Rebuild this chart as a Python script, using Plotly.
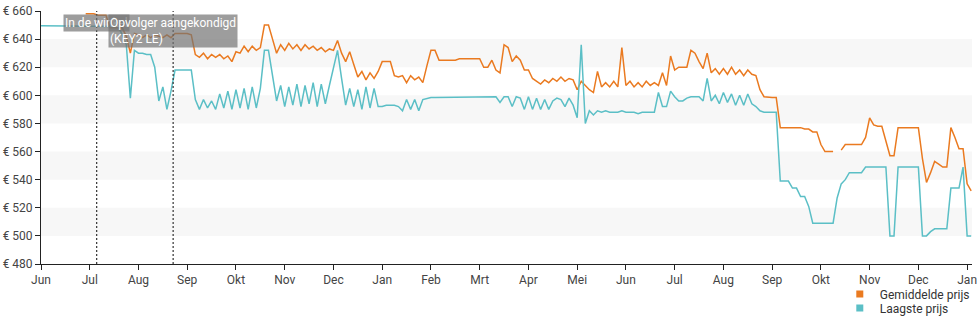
import plotly.graph_objects as go

# ---------------- data ----------------
month_labels = ["Jun", "Jul", "Aug", "Sep", "Okt", "Nov", "Dec", "Jan", "Feb", "Mrt",
                "Apr", "Mei", "Jun", "Jul", "Aug", "Sep", "Okt", "Nov", "Dec", "Jan"]
y_tick_values = [480, 500, 520, 540, 560, 580, 600, 620, 640, 660]
y_tick_labels = ["€ 480", "€ 500", "€ 520", "€ 540", "€ 560", "€ 580", "€ 600", "€ 620", "€ 640", "€ 660"]

# samples every 1/12 month, starting at the first "Jun"
samples_per_month = 12

gemiddelde_prijs = [
    None, None, None, None, None, None, None, None, None, None, None, 658,
    658, 658, 657, 657, 657, 648, 648, 648, 648, 642, 630, 644,
    643, 641, 643, 641, 643, 642, 641, 643, 641, 644, 644, 644,
    644, 643, 629, 627, 630, 626, 629, 627, 629, 626, 628, 624,
    631, 630, 635, 631, 635, 632, 634, 650, 650, 640, 630, 636,
    632, 637, 633, 636, 632, 636, 633, 635, 632, 634, 631, 633,
    632, 639, 630, 624, 631, 622, 613, 617, 611, 616, 612, 617,
    624, 624, 624, 614, 613, 614, 609, 614, 611, 613, 609, 621,
    632, 632, 625, 625, 625, 625, 625, 626, 626, 626, 626, 626,
    626, 620, 620, 625, 618, 616, 636, 634, 624, 628, 625, 618,
    618, 612, 610, 608, 611, 609, 612, 610, 613, 610, 612, 611,
    604, 610, 607, 604, 602, 617, 606, 609, 606, 610, 606, 634,
    607, 610, 606, 609, 606, 610, 607, 609, 607, 616, 607, 628,
    618, 620, 620, 620, 632, 630, 624, 619, 630, 616, 619, 615,
    619, 615, 620, 615, 618, 614, 618, 615, 614, 604, 599, 598.5,
    598.5, 598.5, 577, 577, 577, 577, 577, 577, 576, 576, 574, 574,
    565, 560, 560, 560, None, 561, 565, 565, 565, 565, 565, 570,
    584, 579, 578, 578, 568, 557, 557, 577, 577, 577, 577, 577,
    577, 555, 538, 545, 553, 551, 549, 549, 577, 570, 562, 562,
    537, 532,
]

laagste_prijs = [
    649.5, 649.5, 649.5, 649.5, 649.5, 649.5, 649.5, 649.5, 649.5, 649.5, 649.5, 649.5,
    649.5, 649.5, 649.5, 649.5, 649.5, 649.5, 649.5, 649, 643, 636, 598, 632,
    630, 630, 629, 629, 620, 596, 606, 590, 603, 618, 618, 618,
    618, 618, 597, 590, 597, 591, 596, 590, 601, 591, 603, 590,
    604, 591, 605, 590, 606, 591, 605, 632, 632, 615, 596, 607,
    592, 606, 593, 608, 592, 607, 594, 609, 592, 608, 594, 607,
    620, 632, 612, 593, 605, 592, 604, 590, 606, 591, 605, 592,
    592, 593, 593, 593, 592, 589, 597, 590, 597, 589, 597, 598,
    598.5, 598.5, 598.5, 598.5, 598.5, 598.5, 598.5, 598.5, 598.5, 598.5, 598.5, 598.5,
    598.5, 599, 599, 599, 599, 595, 599, 599, 592, 599, 598, 590,
    599, 590, 598, 590, 597, 590, 596, 598, 597, 592, 598, 593,
    584, 636, 580, 589, 586, 589, 588, 589, 588, 588, 588, 589,
    588, 588, 588, 587, 588, 588, 588, 588, 602, 592, 592, 603,
    599, 596, 596, 598, 599, 599, 599, 596, 612, 596, 600, 594,
    602, 595, 601, 593, 600, 593, 601, 594, 592, 589, 588, 588,
    588, 588, 539, 539, 539, 534, 534, 528, 528, 521, 509, 509,
    509, 509, 509, 509, 527, 537, 540, 545, 545, 545, 545, 549,
    549, 549, 549, 549, 549, 500, 500, 549, 549, 549, 549, 549,
    549, 500, 500, 503, 505, 505, 505, 505, 534, 534, 534, 549,
    500, 500,
]

event_positions = [1.142, 2.711]  # in months from the first "Jun"
event_labels = ["In de winkel", "Opvolger aangekondigd<br>(KEY2 LE)"]

# ---------------- styles ----------------
ORANGE = "#ea7a20"
TEAL = "#5bbfc6"
FONT = "Roboto, 'Open Sans', sans-serif"

x_vals = [i / samples_per_month for i in range(len(laagste_prijs))]

fig = go.Figure()

# alternating background bands
for lo, hi in [(500, 520), (540, 560), (580, 600), (620, 640)]:
    fig.add_shape(type="rect", xref="paper", yref="y", x0=0, x1=1, y0=lo, y1=hi,
                  fillcolor="#f7f7f7", line=dict(width=0), layer="below")

fig.add_trace(go.Scatter(x=x_vals, y=gemiddelde_prijs, mode="lines",
                         line=dict(color=ORANGE, width=1.5), connectgaps=False,
                         showlegend=False, hoverinfo="skip"))
fig.add_trace(go.Scatter(x=x_vals, y=laagste_prijs, mode="lines",
                         line=dict(color=TEAL, width=1.5), connectgaps=False,
                         showlegend=False, hoverinfo="skip"))

# legend entries with square markers (one legend box each for tight spacing)
fig.add_trace(go.Scatter(x=[None], y=[None], mode="markers", name="Gemiddelde prijs",
                         marker=dict(symbol="square", size=7, color=ORANGE),
                         legend="legend"))
fig.add_trace(go.Scatter(x=[None], y=[None], mode="markers", name="Laagste prijs",
                         marker=dict(symbol="square", size=7, color=TEAL),
                         legend="legend2"))

# event lines
for xp in event_positions:
    fig.add_shape(type="line", xref="x", yref="paper", x0=xp, x1=xp, y0=0, y1=1,
                  line=dict(color="#333333", width=1.2, dash="2px,2px"))

for xp, label in zip(event_positions, event_labels):
    fig.add_annotation(x=xp, xref="x", y=1, yref="paper", yanchor="top", xanchor="center",
                       yshift=-3, text=label, showarrow=False, align="left",
                       font=dict(family=FONT, size=12, color="white"),
                       bgcolor="rgba(115,115,115,0.7)", borderpad=1)

legend_style = dict(bgcolor="rgba(0,0,0,0)", font=dict(size=12, color="#333333"),
                    xanchor="left", x=0.858)

fig.update_layout(
    width=980, height=325,
    margin=dict(l=40, r=3, t=11, b=59),
    paper_bgcolor="white", plot_bgcolor="white",
    font=dict(family=FONT, size=12, color="#444444"),
    showlegend=True,
    legend=dict(y=-0.061, yanchor="top", **legend_style),
    legend2=dict(y=-0.231, yanchor="bottom", **legend_style),
    xaxis=dict(range=[0, 19.1], tickmode="array", tickvals=list(range(len(month_labels))),
               ticktext=month_labels, showgrid=False, zeroline=False,
               showline=True, linecolor="#222222", linewidth=1,
               ticks="outside", ticklen=5, tickcolor="#222222",
               ticklabeloverflow="allow",
               tickfont=dict(size=12, color="#444444"), fixedrange=True),
    yaxis=dict(range=[480, 660], tickmode="array", tickvals=y_tick_values,
               ticktext=y_tick_labels, showgrid=False, zeroline=False,
               showline=True, linecolor="#222222", linewidth=1,
               ticks="outside", ticklen=5, tickcolor="#222222",
               tickfont=dict(size=12, color="#444444"), fixedrange=True),
)

fig.write_html("out.html")
